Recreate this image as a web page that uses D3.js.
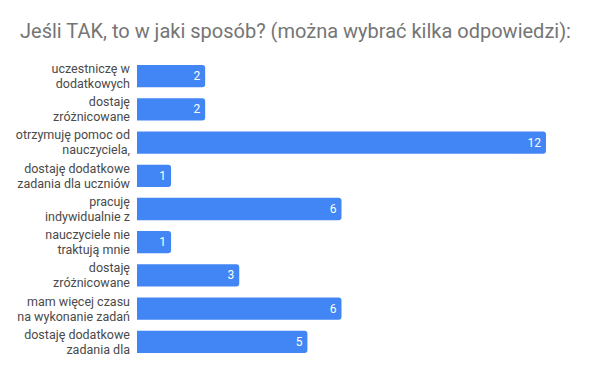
<!DOCTYPE html>
<html>
<head>
<meta charset="utf-8">
<script src="https://cdn.jsdelivr.net/npm/d3@7"></script>
<style>
  body { margin: 0; background: #fff; }
  text { font-family: Roboto, "Noto Sans", sans-serif; }
</style>
</head>
<body>
<div id="chart"></div>
<script>
// Chart data
var titleText = "Jeśli TAK, to w jaki sposób? (można wybrać kilka odpowiedzi):";
var categories = [
    ["uczestniczę w", "dodatkowych"],
    ["dostaję", "zróżnicowane"],
    ["otrzymuję pomoc od", "nauczyciela,"],
    ["dostaję dodatkowe", "zadania dla uczniów"],
    ["pracuję", "indywidualnie z"],
    ["nauczyciele nie", "traktują mnie"],
    ["dostaję", "zróżnicowane"],
    ["mam więcej czasu", "na wykonanie zadań"],
    ["dostaję dodatkowe", "zadania dla"]
];
var values = [2, 2, 12, 1, 6, 1, 3, 6, 5];

var svgWidth = 600;
var svgHeight = 371;
var margin = { top: 65, right: 20, bottom: 20, left: 137 };

var svg = d3.select("#chart")
    .append("svg")
    .attr("width", svgWidth)
    .attr("height", svgHeight);

svg.append("text")
    .attr("x", 20)
    .attr("y", 38)
    .style("font-size", "20px")
    .style("fill", "#757575")
    .text(titleText);

var chartGroup = svg.append("g")
    .attr("transform", `translate(${margin.left}, ${margin.top})`);

var idx = d3.range(values.length);

// scales
var xScale = d3.scaleLinear().domain([0, 12]).range([0, 409]);
var yScale = d3.scaleBand().domain(idx).range([0, 32 * values.length]).paddingInner(0.33).paddingOuter(0);

var r = 3;
chartGroup.selectAll("path.bar")
    .data(idx)
    .enter()
    .append("path")
    .attr("class", "bar")
    .attr("fill", "#4285f4")
    .attr("d", function (i) {
        var w = xScale(values[i]);
        var y = yScale(i);
        var h = yScale.bandwidth();
        return `M0,${y} H${w - r} Q${w},${y} ${w},${y + r} V${y + h - r} Q${w},${y + h} ${w - r},${y + h} H0 Z`;
    });

// value labels
chartGroup.selectAll("text.val")
    .data(idx)
    .enter()
    .append("text")
    .attr("class", "val")
    .attr("x", function (i) { return xScale(values[i]) - 5; })
    .attr("y", function (i) { return yScale(i) + yScale.bandwidth() / 2 + 4; })
    .style("text-anchor", "end")
    .style("font-size", "12px")
    .style("fill", "#ffffff")
    .text(function (i) { return values[i]; });

// category labels
var labels = chartGroup.selectAll("text.cat")
    .data(idx)
    .enter()
    .append("text")
    .attr("class", "cat")
    .style("text-anchor", "end")
    .style("font-size", "12.5px")
    .style("fill", "#4a4a4a");

labels.selectAll("tspan")
    .data(function (i) { return categories[i].map(function (t, k) { return { t: t, k: k, i: i }; }); })
    .enter()
    .append("tspan")
    .attr("x", -7)
    .attr("y", function (d) { return yScale(d.i) + 8 + d.k * 15; })
    .text(function (d) { return d.t; });
</script>
</body>
</html>
